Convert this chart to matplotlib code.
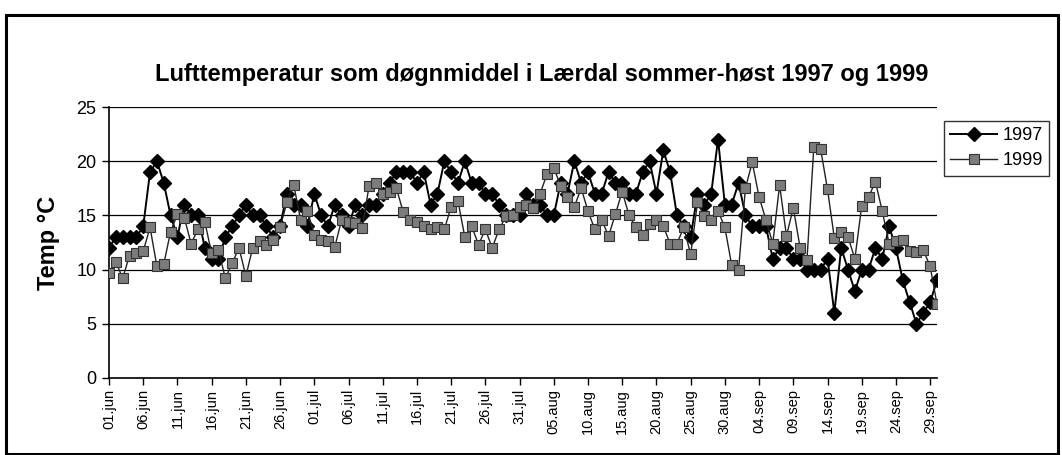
import matplotlib
matplotlib.use("Agg")
import matplotlib.pyplot as plt
from matplotlib.patches import Rectangle
import numpy as np
import datetime as dt

plt.rcParams['font.family'] = ['Liberation Sans', 'DejaVu Sans']

# ---- data ----
start = dt.date(1997, 6, 1)
n_days = 122
tick_every = 5

t1997 = [12, 13, 13, 13, 13, 14, 19, 20, 18, 15,
         13, 16, 15, 15, 12, 11, 11, 13, 14, 15,
         16, 15, 15, 14, 13, 14, 17, 16, 16, 14,
         17, 15, 14, 16, 15, 14, 16, 15, 16, 16,
         17, 18, 19, 19, 19, 18, 19, 16, 17, 20,
         19, 18, 20, 18, 18, 17, 17, 16, 15, 15,
         15, 17, 16, 16, 15, 15, 18, 17, 20, 18,
         19, 17, 17, 19, 18, 18, 17, 17, 19, 20,
         17, 21, 19, 15, 14, 13, 17, 16, 17, 22,
         16, 16, 18, 15, 14, 14, 14, 11, 12, 12,
         11, 11, 10, 10, 10, 11, 6, 12, 10, 8,
         10, 10, 12, 11, 14, 12, 9, 7, 5, 6,
         7, 9]

t1999 = [9.7, 10.7, 9.2, 11.3, 11.5, 11.7, 13.9, 10.3, 10.5, 13.5,
         15.1, 14.8, 12.4, 13.7, 14.4, 11.5, 11.8, 9.2, 10.6, 12.0,
         9.4, 12.0, 12.6, 12.3, 12.7, 13.9, 16.2, 17.8, 14.6, 15.4,
         13.2, 12.7, 12.6, 12.1, 14.6, 14.4, 14.3, 13.8, 17.7, 18.0,
         17.0, 17.2, 17.5, 15.3, 14.6, 14.4, 14.0, 13.7, 13.9, 13.7,
         15.8, 16.3, 13.0, 14.0, 12.3, 13.7, 12.0, 13.7, 14.9, 15.0,
         15.8, 16.0, 15.7, 17.0, 18.8, 19.4, 17.7, 16.7, 15.8, 17.5,
         15.4, 13.7, 14.6, 13.1, 15.1, 17.2, 15.0, 13.9, 13.2, 14.2,
         14.6, 14.0, 12.4, 12.4, 13.9, 11.4, 16.2, 14.9, 14.6, 15.4,
         13.9, 10.4, 10.0, 17.5, 19.9, 16.7, 14.6, 12.4, 17.8, 13.1,
         15.7, 12.0, 10.9, 21.3, 21.1, 17.4, 12.9, 13.5, 13.0, 11.0,
         15.9, 16.7, 18.1, 15.4, 12.4, 12.6, 12.7, 11.7, 11.6, 11.8,
         10.3, 6.8]

months = {6: 'jun', 7: 'jul', 8: 'aug', 9: 'sep'}
dates = [start + dt.timedelta(days=i) for i in range(n_days)]
tick_idx = list(range(0, n_days, tick_every))
tick_labels = [f"{dates[i].day:02d}.{months[dates[i].month]}" for i in tick_idx]

title = "Lufttemperatur som døgnmiddel i Lærdal sommer-høst 1997 og 1999"
ylabel = "Temp °C"

# ---- figure ----
W, H = 1062, 455
fig = plt.figure(figsize=(W / 100, H / 100), dpi=100)
fig.patch.set_facecolor('white')

# outer frame
fig.patches.append(Rectangle((6 / W, 1 / H), (1058 - 6) / W, 439 / H,
                             transform=fig.transFigure, fill=False,
                             edgecolor='black', linewidth=2.2, zorder=0))

left, right = 109 / W, 937 / W
bottom, top = 1 - 378 / H, 1 - 107 / H
ax = fig.add_axes([left, bottom, right - left, top - bottom])

x = np.arange(n_days)
ax.plot(x, t1997, color='black', linewidth=1.4, marker='D', markersize=7.5,
        markerfacecolor='black', markeredgecolor='black', label='1997', zorder=3)
ax.plot(x, t1999, color='#222222', linewidth=1.0, marker='s', markersize=6.5,
        markerfacecolor='#7c7c7c', markeredgecolor='#333333', markeredgewidth=0.8,
        label='1999', zorder=3)

ax.set_xlim(0, n_days - 1)
ax.set_ylim(0, 25)
ax.set_yticks([0, 5, 10, 15, 20, 25])
ax.set_xticks(tick_idx)
ax.set_xticklabels(tick_labels, rotation=90, fontsize=10.5)
ax.tick_params(axis='y', labelsize=13, direction='out', length=5, width=1, pad=4)
ax.tick_params(axis='x', direction='out', length=5, width=1, pad=3)

ax.grid(axis='y', color='black', linewidth=0.9)
ax.set_axisbelow(True)
for s in ['top', 'right']:
    ax.spines[s].set_visible(False)
for s in ['left', 'bottom']:
    ax.spines[s].set_linewidth(1.2)

ax.set_ylabel(ylabel, fontsize=17, fontweight='bold', labelpad=12)

fig.text(0.51, 1 - 74 / H, title, ha='center', va='center',
         fontsize=17, fontweight='bold')

leg = ax.legend(loc='upper left', bbox_to_anchor=(944 / W, 1 - 121 / H),
                bbox_transform=fig.transFigure, frameon=True, fancybox=False,
                fontsize=13, handlelength=2.6, borderpad=0.35, labelspacing=0.45,
                handletextpad=0.3, borderaxespad=0)
leg.get_frame().set_edgecolor('black')
leg.get_frame().set_linewidth(1.0)

fig.savefig('out.png', dpi=100, facecolor='white')
